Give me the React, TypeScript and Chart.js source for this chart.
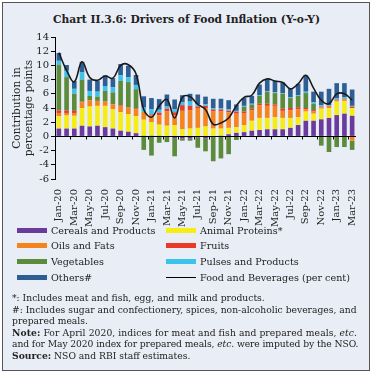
import React, { useEffect, useRef } from "react";
import { Chart, registerables } from "chart.js";
Chart.register(...registerables);

const months = [
  "Jan-20","Feb-20","Mar-20","Apr-20","May-20","Jun-20","Jul-20","Aug-20","Sep-20","Oct-20","Nov-20","Dec-20",
  "Jan-21","Feb-21","Mar-21","Apr-21","May-21","Jun-21","Jul-21","Aug-21","Sep-21","Oct-21","Nov-21","Dec-21",
  "Jan-22","Feb-22","Mar-22","Apr-22","May-22","Jun-22","Jul-22","Aug-22","Sep-22","Oct-22","Nov-22","Dec-22",
  "Jan-23","Feb-23","Mar-23",
];

const cereals = [
  1.1, 1.1, 1.1, 1.5, 1.4, 1.5, 1.3, 1.1, 0.8, 0.65, 0.45, 0.05,
  0.1, 0.05, 0.0, -0.3, -0.3, -0.3, -0.1, -0.3, 0.0, 0.1, 0.3, 0.5,
  0.6, 0.8, 0.9, 1.0, 1.0, 1.0, 1.2, 1.6, 2.2, 2.2, 2.4, 2.6,
  3.0, 3.2, 2.9,
];
const animalProteins = [
  1.75, 1.85, 1.8, 2.5, 2.8, 2.8, 3.0, 2.7, 2.6, 2.5, 2.4, 2.3,
  1.9, 1.6, 1.5, 1.6, 1.0, 1.1, 1.2, 1.4, 1.1, 1.0, 0.9, 0.8,
  1.0, 1.4, 1.7, 1.6, 1.7, 1.6, 1.4, 1.1, 1.3, 1.0, 1.5, 1.4,
  1.9, 1.8, 1.1,
];
const oilsFats = [
  0.45, 0.35, 0.4, 0.8, 0.9, 0.7, 0.6, 0.7, 0.9, 0.9, 1.0, 1.1,
  1.0, 1.3, 2.0, 1.4, 2.6, 2.6, 2.8, 2.6, 2.4, 2.4, 2.2, 1.9,
  1.7, 1.5, 1.8, 1.7, 1.6, 1.0, 1.1, 1.1, 0.3, 0.3, 0.2, 0.2,
  0.2, 0.2, -0.6,
];
const fruits = [
  0.35, 0.35, 0.3, 0.1, 0.0, 0.0, 0.0, 0.0, 0.1, 0.0, 0.1, 0.0,
  0.1, 0.4, 0.4, 0.4, 0.8, 0.6, 0.2, 0.3, 0.3, 0.3, 0.2, 0.3,
  0.2, 0.2, 0.2, 0.3, 0.2, 0.3, 0.3, 0.3, 0.2, 0.2, 0.1, 0.1,
  0.1, 0.1, 0.2,
];
const vegetables = [
  6.4, 4.7, 2.4, 3.1, 0.6, 0.6, 1.5, 1.7, 3.4, 3.6, 2.7, -1.9,
  -2.7, -0.9, -0.8, -2.5, -0.3, -0.3, -1.5, -1.8, -3.5, -3.1, -2.5, -0.5,
  0.7, 0.6, 1.1, 1.7, 1.6, 2.1, 1.4, 1.6, 2.1, 0.9, -1.3, -2.2,
  -1.5, -1.5, -1.3,
];
const pulses = [
  0.6, 0.9, 0.7, 1.0, 0.7, 0.7, 0.7, 0.7, 0.8, 0.7, 0.6, 0.6,
  0.7, 0.4, 0.3, 0.4, 0.4, 0.6, 0.3, 0.2, 0.2, 0.2, 0.2, 0.1,
  0.1, 0.1, 0.1, 0.1, 0.1, 0.1, 0.1, 0.1, 0.2, 0.2, 0.2, 0.1,
  0.2, 0.2, 0.1,
];
const others = [
  1.1, 0.8, 1.1, 1.5, 1.6, 1.5, 1.5, 1.3, 1.6, 1.6, 1.4, 1.6,
  1.6, 1.5, 1.7, 1.4, 1.0, 1.1, 1.4, 1.1, 1.3, 1.3, 1.3, 0.9,
  1.1, 1.1, 1.5, 1.6, 1.6, 1.5, 1.2, 1.6, 2.3, 1.5, 1.9, 2.3,
  2.1, 2.0, 2.3,
];
const foodBeverages = [
  11.8, 9.3, 7.7, 10.5, 8.3, 7.9, 8.5, 8.2, 10.0, 10.1, 8.8, 3.8,
  2.7, 4.3, 5.2, 2.6, 5.5, 5.6, 4.5, 3.8, 1.7, 1.9, 2.6, 4.3,
  5.5, 5.8, 7.5, 8.1, 7.8, 7.6, 6.7, 7.4, 8.6, 6.8, 5.1, 4.6,
  6.0, 6.0, 5.1,
];

const yTicks = [-6, -4, -2, 0, 2, 4, 6, 8, 10, 12, 14];

const COLORS = {
  cereals: "#6a3a9c",
  animal: "#f6ec16",
  oils: "#f5841f",
  fruits: "#ea3a26",
  veg: "#5c8b3b",
  pulses: "#3cc3ec",
  others: "#2d5f95",
};

const SERIF = '"DejaVu Serif", serif';

const overlayPlugin = {
  id: "overlay",
  afterDatasetsDraw(chart: any) {
    const { ctx, chartArea, scales } = chart;
    const y0 = Math.round(scales.y.getPixelForValue(0)) + 0.5;
    ctx.save();
    ctx.strokeStyle = "#000";
    ctx.lineWidth = 1;
    ctx.beginPath();
    ctx.moveTo(chartArea.left, y0);
    ctx.lineTo(chartArea.right, y0);
    const xs = scales.x;
    const w = xs.getPixelForValue(1) - xs.getPixelForValue(0);
    for (let i = 0; i < months.length; i += 2) {
      const px = Math.round(xs.getPixelForValue(i) - w / 2) + 0.5;
      ctx.moveTo(px, y0);
      ctx.lineTo(px, y0 + 3);
    }
    ctx.stroke();
    ctx.restore();
  },
  afterDraw(chart: any) {
    const { ctx, chartArea } = chart;
    const cy = (chartArea.top + chartArea.bottom) / 2;
    ctx.save();
    ctx.fillStyle = "#222";
    ctx.font = `10.5px ${SERIF}`;
    ctx.textAlign = "center";
    ctx.textBaseline = "middle";
    const lines = ["Contribution in", "percentage points"];
    const xsPos = [17, 29];
    lines.forEach((t, i) => {
      ctx.save();
      ctx.translate(xsPos[i], cy);
      ctx.rotate(-Math.PI / 2);
      ctx.fillText(t, 0, 0);
      ctx.restore();
    });
    ctx.restore();
  },
};

function ChartCanvas() {
  const ref = useRef<HTMLCanvasElement | null>(null);
  useEffect(() => {
    if (!ref.current) return;
    const bar = (label: string, data: number[], color: string) => ({
      type: "bar" as const,
      label,
      data,
      backgroundColor: color,
      borderWidth: 0,
      stack: "bars",
      order: 1,
      barPercentage: 0.6,
      categoryPercentage: 1,
    });
    const chart = new Chart(ref.current, {
      type: "bar",
      data: {
        labels: months,
        datasets: [
          bar("Cereals and Products", cereals, COLORS.cereals),
          bar("Animal Proteins*", animalProteins, COLORS.animal),
          bar("Oils and Fats", oilsFats, COLORS.oils),
          bar("Fruits", fruits, COLORS.fruits),
          bar("Vegetables", vegetables, COLORS.veg),
          bar("Pulses and Products", pulses, COLORS.pulses),
          bar("Others#", others, COLORS.others),
          {
            type: "line" as const,
            label: "Food and Beverages (per cent)",
            data: foodBeverages,
            borderColor: "#1a1a1a",
            borderWidth: 1.6,
            pointRadius: 0,
            tension: 0.4,
            fill: false,
            stack: "line",
            order: 0,
          } as any,
        ],
      },
      options: {
        animation: false,
        responsive: true,
        maintainAspectRatio: false,
        layout: { padding: { top: 37, right: 17, left: 0, bottom: 0 } },
        plugins: { legend: { display: false }, tooltip: { enabled: false } },
        scales: {
          x: {
            stacked: true,
            offset: true,
            grid: { display: false },
            border: { display: false },
            ticks: {
              autoSkip: false,
              minRotation: 90,
              maxRotation: 90,
              padding: 2,
              color: "#222",
              font: { family: SERIF, size: 10 },
              callback: (_v: any, i: number) => (i % 2 === 0 ? months[i] : ""),
            },
            afterFit: (s: any) => {
              s.height = 50;
            },
          },
          y: {
            stacked: true,
            min: -6,
            max: 14,
            afterBuildTicks: (s: any) => {
              s.ticks = yTicks.map((v) => ({ value: v }));
            },
            grid: {
              display: true,
              drawOnChartArea: false,
              drawTicks: true,
              tickLength: 4,
              color: "#000",
            },
            border: { display: true, color: "#000", width: 1 },
            ticks: {
              autoSkip: false,
              padding: 2,
              color: "#222",
              font: { family: SERIF, size: 10 },
            },
            afterFit: (s: any) => {
              s.width = 55;
            },
          },
        },
      },
      plugins: [overlayPlugin],
    } as any);
    return () => chart.destroy();
  }, []);
  return (
    <div style={{ position: "absolute", left: 0, top: 0, width: 373, height: 229 }}>
      <canvas ref={ref} />
    </div>
  );
}

const legendItems = [
  { label: "Cereals and Products", color: COLORS.cereals, col: 0, row: 0 },
  { label: "Animal Proteins*", color: COLORS.animal, col: 1, row: 0 },
  { label: "Oils and Fats", color: COLORS.oils, col: 0, row: 1 },
  { label: "Fruits", color: COLORS.fruits, col: 1, row: 1 },
  { label: "Vegetables", color: COLORS.veg, col: 0, row: 2 },
  { label: "Pulses and Products", color: COLORS.pulses, col: 1, row: 2 },
  { label: "Others#", color: COLORS.others, col: 0, row: 3 },
  { label: "Food and Beverages (per cent)", color: "#000", col: 1, row: 3, line: true },
];

export default function App() {
  const rowY = [230, 245.5, 261, 277];
  const colX = [17, 166];
  return (
    <div
      style={{
        position: "absolute",
        left: 0,
        top: 0,
        width: 373,
        height: 375,
        background: "#fff",
        fontFamily: SERIF,
        color: "#222",
      }}
    >
      <div
        style={{
          position: "absolute",
          left: 2,
          top: 2,
          width: 366,
          height: 367,
          border: "1px solid #555",
          background: "#e9edf5",
        }}
      />
      <div
        style={{
          position: "absolute",
          left: 0,
          width: 373,
          top: 13,
          textAlign: "center",
          fontFamily: SERIF,
          fontWeight: "bold",
          fontSize: 10.7,
          lineHeight: "13px",
          whiteSpace: "nowrap",
          color: "#222",
        }}
      >
        Chart II.3.6: Drivers of Food Inflation (Y-o-Y)
      </div>
      <ChartCanvas />
      {legendItems.map((it) => (
        <div
          key={it.label}
          style={{
            position: "absolute",
            left: colX[it.col],
            top: rowY[it.row] - 7,
            height: 14,
            display: "flex",
            alignItems: "center",
            whiteSpace: "nowrap",
            fontSize: 9.6,
          }}
        >
          <span
            style={{
              display: "inline-block",
              width: 30,
              height: it.line ? 1 : 5,
              background: it.color,
              marginRight: 4,
            }}
          />
          <span>{it.label}</span>
        </div>
      ))}
      <div
        style={{
          position: "absolute",
          left: 12,
          top: 292,
          width: 356,
          fontSize: 9.2,
          lineHeight: "11.6px",
          color: "#222",
          whiteSpace: "nowrap",
        }}
      >
        <div>*: Includes meat and fish, egg, and milk and products.</div>
        <div>#: Includes sugar and confectionery, spices, non-alcoholic beverages, and</div>
        <div>prepared meals.</div>
        <div style={{ letterSpacing: "0.08px" }}>
          <b>Note:</b> For April 2020, indices for meat and fish and prepared meals, <i>etc</i>.
        </div>
        <div style={{ letterSpacing: "-0.09px" }}>
          and for May 2020 index for prepared meals, <i>etc</i>. were imputed by the NSO.
        </div>
        <div>
          <b>Source:</b> NSO and RBI staff estimates.
        </div>
      </div>
    </div>
  );
}
